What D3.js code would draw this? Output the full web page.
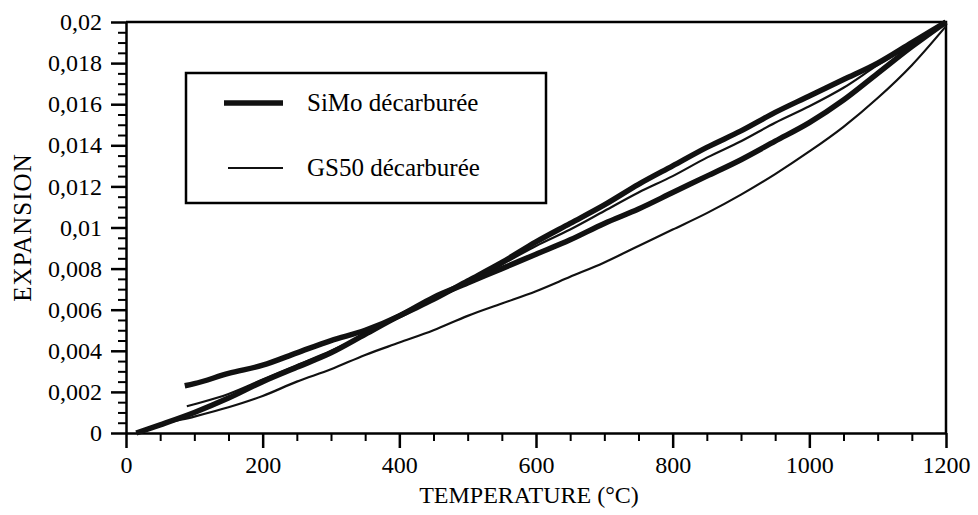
<!DOCTYPE html>
<html><head><meta charset="utf-8">
<script src="https://cdn.jsdelivr.net/npm/d3@7"></script>
<style>
body{margin:0;background:#fff}
text{font-family:"Liberation Serif","Times New Roman",serif;fill:#000}
</style>
</head><body>
<svg id="c" width="978" height="515"></svg>
<script>
// ---- data ----
const xTickValues = [0, 200, 400, 600, 800, 1000, 1200];
const yTickValues = [0, 0.002, 0.004, 0.006, 0.008, 0.01, 0.012, 0.014, 0.016, 0.018, 0.02];
const yTickLabels = ["0", "0,002", "0,004", "0,006", "0,008", "0,01", "0,012", "0,014", "0,016", "0,018", "0,02"];

// SiMo décarburée - heating
const simoHeatT = [15, 50, 100, 150, 200, 250, 300, 350, 400, 450, 500, 550, 600, 650, 700, 750, 800, 850, 900, 950, 1000, 1050, 1100, 1150, 1200];
const simoHeatV = [0, 0.0004, 0.0010, 0.0017, 0.0025, 0.0032, 0.0039, 0.0048, 0.0057, 0.0065, 0.0074, 0.0083, 0.0093, 0.0102, 0.0111, 0.0121, 0.0130, 0.0139, 0.0147, 0.0156, 0.0164, 0.0172, 0.0180, 0.0190, 0.0200];
// SiMo décarburée - cooling
const simoCoolT = [86, 100, 150, 200, 250, 300, 350, 400, 450, 500, 550, 600, 650, 700, 750, 800, 850, 900, 950, 1000, 1050, 1100, 1150, 1200];
const simoCoolV = [0.0023, 0.0024, 0.0029, 0.0033, 0.0039, 0.0045, 0.0050, 0.0057, 0.0066, 0.0073, 0.0080, 0.0087, 0.0094, 0.0102, 0.0109, 0.0117, 0.0125, 0.0133, 0.0142, 0.0151, 0.0162, 0.0175, 0.0188, 0.0200];
// GS50 décarburée - heating
const gsHeatT = [15, 50, 100, 150, 200, 250, 300, 350, 400, 450, 500, 550, 600, 650, 700, 750, 800, 850, 900, 950, 1000, 1050, 1100, 1150, 1200];
const gsHeatV = [0, 0.0004, 0.0008, 0.00125, 0.0018, 0.0025, 0.0031, 0.0038, 0.0044, 0.0050, 0.0057, 0.0063, 0.0069, 0.0076, 0.0083, 0.0091, 0.0099, 0.0107, 0.0116, 0.0126, 0.0137, 0.0149, 0.0163, 0.0179, 0.0198];
// GS50 décarburée - cooling
const gsCoolT = [89, 100, 150, 200, 250, 300, 350, 400, 450, 500, 550, 600, 650, 700, 750, 800, 850, 900, 950, 1000, 1050, 1100, 1150, 1200];
const gsCoolV = [0.0013, 0.0014, 0.0019, 0.0026, 0.0033, 0.0040, 0.0048, 0.0057, 0.0065, 0.0073, 0.0082, 0.0091, 0.0099, 0.0108, 0.0117, 0.0125, 0.0134, 0.0142, 0.0151, 0.0159, 0.0168, 0.0179, 0.0189, 0.0200];

const legendLabels = ["SiMo décarburée", "GS50 décarburée"];
const xTitle = "TEMPERATURE (°C)";
const yTitle = "EXPANSION";

// ---- drawing ----
const svg = d3.select("#c");
const L = 126, R = 946, T = 22, B = 433;
const x = d3.scaleLinear().domain([0, 1200]).range([L, R]);
const y = d3.scaleLinear().domain([0, 0.02]).range([B, T]);

const fontTick = 24;

// minor ticks
const xMinor = d3.range(0, 1201, 50).filter(v => v % 200 !== 0);
const yMinor = d3.range(0, 41).map(i => i * 0.0005).filter((v, i) => i % 4 !== 0);

svg.append("g").attr("transform", `translate(0,${B})`)
  .call(d3.axisBottom(x).tickValues(xMinor).tickSize(8).tickFormat(""))
  .call(g => g.select(".domain").remove())
  .selectAll("line").attr("stroke", "#000").attr("stroke-width", 2);
svg.append("g").attr("transform", `translate(${L},0)`)
  .call(d3.axisLeft(y).tickValues(yMinor).tickSize(8).tickFormat(""))
  .call(g => g.select(".domain").remove())
  .selectAll("line").attr("stroke", "#000").attr("stroke-width", 2);

// major axes
const xAxis = svg.append("g").attr("transform", `translate(0,${B})`)
  .call(d3.axisBottom(x).tickValues(xTickValues).tickSize(15).tickPadding(8).tickSizeOuter(0).tickFormat(d3.format("d")));
const yAxis = svg.append("g").attr("transform", `translate(${L},0)`)
  .call(d3.axisLeft(y).tickValues(yTickValues).tickSize(15).tickPadding(9).tickSizeOuter(0)
        .tickFormat((d, i) => yTickLabels[i]));
[xAxis, yAxis].forEach(g => {
  g.select(".domain").attr("stroke", "#000").attr("stroke-width", 2.5);
  g.selectAll(".tick line").attr("stroke", "#000").attr("stroke-width", 2.5);
  g.selectAll("text").attr("font-size", fontTick).attr("font-family", "Liberation Serif").attr("fill", "#000");
});

// frame top & right
svg.append("path").attr("d", `M${L},${T}H${R}V${B}`).attr("fill", "none").attr("stroke", "#000").attr("stroke-width", 2.5);

// curves
const line = d3.line().x(d => x(d[0])).y(d => y(d[1])).curve(d3.curveMonotoneX);
const zip = (a, b) => a.map((v, i) => [v, b[i]]);
const series = [
  {d: zip(gsHeatT, gsHeatV), w: 2.2},
  {d: zip(gsCoolT, gsCoolV), w: 2.2},
  {d: zip(simoHeatT, simoHeatV), w: 5.5},
  {d: zip(simoCoolT, simoCoolV), w: 5.5}
];
svg.append("g").selectAll("path").data(series).join("path")
  .attr("d", s => line(s.d)).attr("fill", "none").attr("stroke", "#111")
  .attr("stroke-width", s => s.w).attr("stroke-linejoin", "round").attr("stroke-linecap", "butt");

// legend
const lg = svg.append("g");
lg.append("rect").attr("x", 186).attr("y", 73).attr("width", 360).attr("height", 130)
  .attr("fill", "#fff").attr("stroke", "#000").attr("stroke-width", 2.5);
const legendRows = [{y: 103, w: 5.5, x0: 224}, {y: 168, w: 2.2, x0: 228}];
legendRows.forEach((r, i) => {
  lg.append("line").attr("x1", r.x0).attr("x2", 283).attr("y1", r.y).attr("y2", r.y)
    .attr("stroke", "#111").attr("stroke-width", r.w);
  lg.append("text").attr("x", 307).attr("y", r.y + 8).attr("font-size", 25).text(legendLabels[i]);
});

// titles
svg.append("text").attr("x", 529).attr("y", 503).attr("text-anchor", "middle").attr("font-size", 24).text(xTitle);
svg.append("text").attr("transform", `translate(31,${(T + B) / 2}) rotate(-90)`)
  .attr("text-anchor", "middle").attr("font-size", 25).attr("letter-spacing", 1).text(yTitle);
</script>
</body></html>
